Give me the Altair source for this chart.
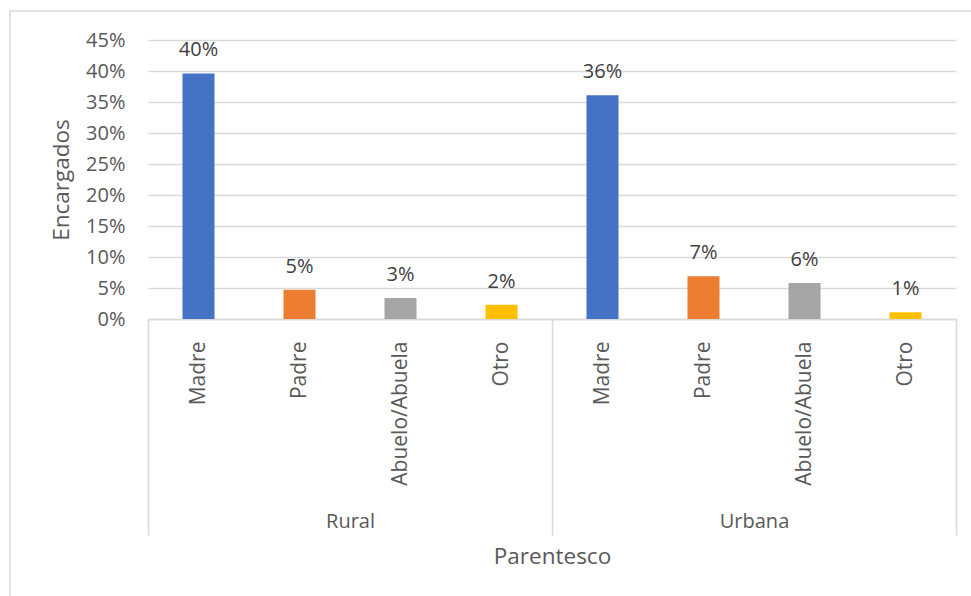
import altair as alt
import pandas as pd

groups = ["Rural", "Rural", "Rural", "Rural", "Urbana", "Urbana", "Urbana", "Urbana"]
categories = ["Madre", "Padre", "Abuelo/Abuela", "Otro", "Madre", "Padre", "Abuelo/Abuela", "Otro"]
values = [0.396, 0.047, 0.034, 0.023, 0.361, 0.069, 0.058, 0.011]
group_names = ["Rural", "Urbana"]
cat_order = ["Madre", "Padre", "Abuelo/Abuela", "Otro"]
cat_colors = ["#4472C4", "#ED7D31", "#A5A5A5", "#FFC000"]
y_ticks = [0, 0.05, 0.10, 0.15, 0.20, 0.25, 0.30, 0.35, 0.40, 0.45]

FONT = "Open Sans"
TXT = "#595959"
GRID = "#d9d9d9"
LBL = 20
TTL = 22.5

keys = [g + "|" + c for g, c in zip(groups, categories)]
df = pd.DataFrame({"key": keys, "group": groups, "cat": categories, "value": values})
dg = pd.DataFrame({"group": group_names})

x_cat = alt.X(
    "key:N",
    sort=keys,
    scale=alt.Scale(type="band", paddingInner=0.683, paddingOuter=0.3415),
    axis=alt.Axis(
        orient="bottom",
        title=None,
        labelExpr="split(datum.label, '|')[1]",
        labelAngle=-90,
        labelPadding=22,
        labelFontSize=21,
        labelColor=TXT,
        labelFont=FONT,
        ticks=False,
        domain=True,
        domainColor=GRID,
        domainWidth=1.5,
    ),
)
y_val = alt.Y(
    "value:Q",
    scale=alt.Scale(domain=[0, 0.45], nice=False),
    axis=alt.Axis(
        title="Encargados",
        values=y_ticks,
        format=".0%",
        labelOverlap=False,
        grid=True,
        gridColor=GRID,
        gridWidth=1.5,
        domain=False,
        ticks=False,
        labelPadding=23,
        labelFontSize=LBL,
        labelColor=TXT,
        labelFont=FONT,
        titleFontSize=TTL,
        titleFontWeight="normal",
        titleColor=TXT,
        titleFont=FONT,
        titlePadding=12,
    ),
)

bars = alt.Chart(df).mark_bar().encode(
    x=x_cat,
    y=y_val,
    color=alt.Color("cat:N", scale=alt.Scale(domain=cat_order, range=cat_colors), legend=None),
)

labels = alt.Chart(df).mark_text(
    dy=-23, baseline="middle", fontSize=LBL, color="#404040", font=FONT
).encode(
    x=x_cat,
    y=y_val,
    text=alt.Text("value:Q", format=".0%"),
)

main = alt.layer(bars, labels)

group_axis = alt.Chart(dg).mark_point(opacity=0).encode(
    x=alt.X(
        "group:N",
        sort=group_names,
        scale=alt.Scale(type="band", paddingInner=0, paddingOuter=0),
        axis=alt.Axis(
            orient="bottom",
            title="Parentesco",
            titlePadding=26,
            titleFontSize=TTL,
            titleFontWeight="normal",
            titleColor=TXT,
            titleFont=FONT,
            tickBand="extent",
            tickSize=216,
            tickColor=GRID,
            tickWidth=1.5,
            domain=False,
            labelAngle=0,
            labelPadding=-24,
            labelFontSize=LBL,
            labelColor=TXT,
            labelFont=FONT,
        ),
    ),
)

border = alt.Chart(pd.DataFrame({"a": [0]})).mark_rect(
    filled=False, stroke=GRID, strokeWidth=1.5
).encode(
    x=alt.value(-138), x2=alt.value(900), y=alt.value(-29), y2=alt.value(700)
)

chart = (
    alt.layer(main, group_axis, border)
    .resolve_scale(x="independent")
    .resolve_axis(x="independent")
    .properties(
        width=808,
        height=279,
        autosize=alt.AutoSizeParams(type="none"),
        padding={"left": 148, "top": 40, "right": 15, "bottom": 277},
        background="white",
    )
    .configure_view(stroke=None)
)

chart.save("out.html", embed_options={"renderer": "svg", "actions": False})
